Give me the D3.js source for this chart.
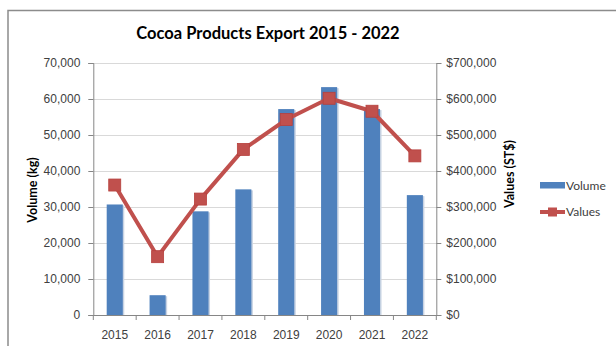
<!DOCTYPE html>
<html>
  <head>
    <meta charset="UTF-8">
    <title>Cocoa Products Export 2015 - 2022</title>
    <style>
      body { margin: 0; background: #fff; }
      svg { display: block; font-family: Lato, "Open Sans", sans-serif; }
      .axis text { fill: #404040; font-size: 12px; }
      .axis path, .axis line { stroke: #868686; }
      .grid line { stroke: #d9d9d9; }
      .grid path { display: none; }
    </style>
  </head>
  <body>

    <svg></svg>

    <script src="https://d3js.org/d3.v7.min.js"></script>
    <script>

// data
var years = ["2015", "2016", "2017", "2018", "2019", "2020", "2021", "2022"];
var volume = [30700, 5500, 28800, 34900, 57200, 63300, 57200, 33300];   // kg
var values = [361000, 162000, 322000, 460000, 543000, 602000, 566000, 442000]; // ST$
var volumeTicks = [0, 10000, 20000, 30000, 40000, 50000, 60000, 70000];
var valueTicks = [0, 100000, 200000, 300000, 400000, 500000, 600000, 700000];

var config = {
  "width": 616,
  "height": 346,
  "plot": { "left": 93.3, "right": 436.3, "top": 63, "bottom": 315 },
  "blue": "#4f81bd",
  "red": "#c0504d"
};

var svg = d3.select("svg")
  .attr("width", config.width)
  .attr("height", config.height);

var p = config.plot;

// chart frame (runs off the right and bottom of the picture)
svg.append("path")
  .attr("d", "M8,346 V10.5 H616")
  .attr("fill", "none")
  .attr("stroke", "#8c8c8c")
  .attr("stroke-width", 1.5);

var x = d3.scaleBand()
  .domain(years)
  .range([p.left, p.right])
  .paddingInner(0.625)
  .paddingOuter(0.3125);

var y = d3.scaleLinear().domain([0, 70000]).range([p.bottom, p.top]);
var y2 = d3.scaleLinear().domain([0, 700000]).range([p.bottom, p.top]);

// gridlines
svg.append("g")
  .attr("class", "grid")
  .attr("transform", "translate(" + p.left + ",0)")
  .call(d3.axisLeft(y).tickValues(volumeTicks.slice(1)).tickSize(-(p.right - p.left)).tickFormat(""));

// bars
var bars = svg.append("g");
bars.selectAll("rect.shadow")
  .data(years)
  .enter().append("rect")
    .attr("class", "shadow")
    .attr("x", function(d) { return x(d) + 1.5; })
    .attr("y", function(d, i) { return y(volume[i]) + 1; })
    .attr("width", x.bandwidth())
    .attr("height", function(d, i) { return p.bottom - y(volume[i]) - 1; })
    .attr("fill", "#c8d3e3");
bars.selectAll("rect.bar")
  .data(years)
  .enter().append("rect")
    .attr("class", "bar")
    .attr("x", function(d) { return x(d); })
    .attr("y", function(d, i) { return y(volume[i]); })
    .attr("width", x.bandwidth())
    .attr("height", function(d, i) { return p.bottom - y(volume[i]); })
    .attr("fill", config.blue);

// left axis
svg.append("g")
  .attr("class", "axis")
  .attr("transform", "translate(" + p.left + ",0)")
  .call(d3.axisLeft(y).tickValues(volumeTicks).tickSize(5).tickPadding(8).tickFormat(d3.format(",")));

// right axis
svg.append("g")
  .attr("class", "axis")
  .attr("transform", "translate(" + p.right + ",0)")
  .call(d3.axisRight(y2).tickValues(valueTicks).tickSize(5).tickPadding(5).tickFormat(d3.format("$,")));

// bottom axis: labels centred, ticks between categories
var bottom = svg.append("g")
  .attr("class", "axis")
  .attr("transform", "translate(0," + p.bottom + ")")
  .call(d3.axisBottom(x).tickSize(0).tickPadding(15));
bottom.selectAll(".sep")
  .data(d3.range(years.length + 1))
  .enter().append("line")
    .attr("class", "sep")
    .attr("x1", function(i) { return p.left + i * x.step(); })
    .attr("x2", function(i) { return p.left + i * x.step(); })
    .attr("y1", 0)
    .attr("y2", 5);

// values line
var line = d3.line()
  .x(function(d, i) { return x(years[i]) + x.bandwidth() / 2; })
  .y(function(d) { return y2(d); });

svg.append("path")
  .datum(values)
  .attr("d", line)
  .attr("fill", "none")
  .attr("stroke", config.red)
  .attr("stroke-width", 4)
  .attr("stroke-linejoin", "round");

svg.append("g")
  .selectAll("rect")
  .data(values)
  .enter().append("rect")
    .attr("x", function(d, i) { return x(years[i]) + x.bandwidth() / 2 - 6; })
    .attr("y", function(d) { return y2(d) - 6; })
    .attr("width", 12)
    .attr("height", 12)
    .attr("fill", config.red)
    .attr("stroke", "#b6403d")
    .attr("stroke-width", 0.8);

// titles
svg.append("text")
  .attr("x", 268)
  .attr("y", 39)
  .attr("text-anchor", "middle")
  .attr("font-weight", "bold")
  .attr("font-size", 16.5)
  .attr("fill", "#000")
  .text("Cocoa Products Export 2015 - 2022");

svg.append("text")
  .attr("transform", "translate(37,190) rotate(-90)")
  .attr("text-anchor", "middle")
  .attr("font-weight", "bold")
  .attr("font-size", 12.5)
  .attr("fill", "#000")
  .text("Volume (kg)");

svg.append("text")
  .attr("transform", "translate(514,174) rotate(-90)")
  .attr("text-anchor", "middle")
  .attr("font-weight", "bold")
  .attr("font-size", 12.5)
  .attr("fill", "#000")
  .text("Values (ST$)");

// legend
var legend = svg.append("g").attr("font-size", 12).attr("fill", "#404040");
legend.append("rect")
  .attr("x", 540).attr("y", 182)
  .attr("width", 25).attr("height", 6.5)
  .attr("fill", config.blue);
legend.append("text")
  .attr("x", 566).attr("y", 185.5).attr("dy", "0.35em")
  .text("Volume");
legend.append("line")
  .attr("x1", 540).attr("x2", 565)
  .attr("y1", 212).attr("y2", 212)
  .attr("stroke", config.red).attr("stroke-width", 4);
legend.append("rect")
  .attr("x", 548).attr("y", 207.5)
  .attr("width", 9).attr("height", 9)
  .attr("fill", config.red);
legend.append("text")
  .attr("x", 566).attr("y", 212).attr("dy", "0.35em")
  .text("Values");

    </script>
  </body>
</html>
